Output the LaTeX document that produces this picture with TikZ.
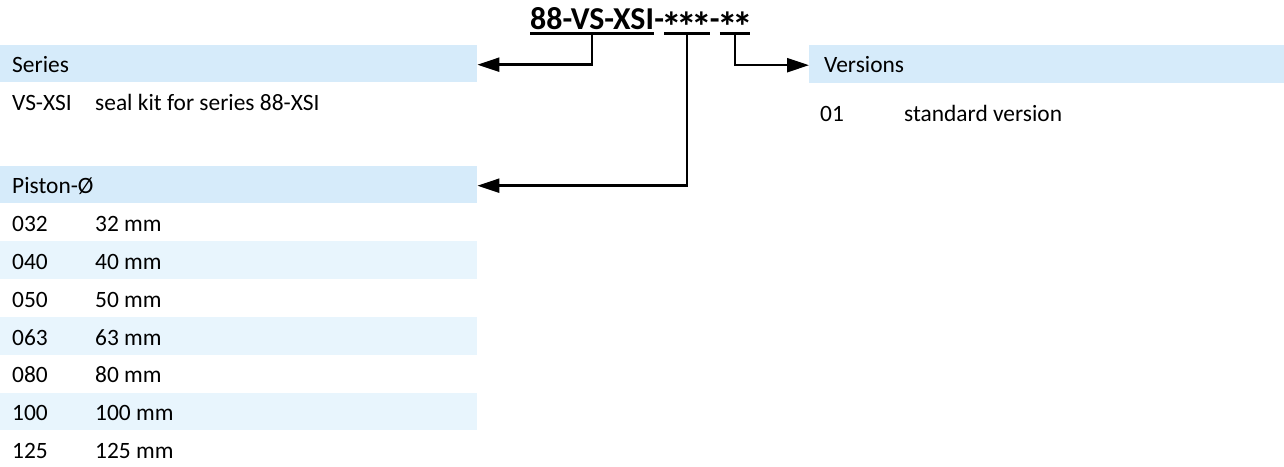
\documentclass[tikz,border=0pt]{standalone}
\usepackage{fontspec}
\usepackage{graphicx}
\setmainfont{Carlito}
\usetikzlibrary{arrows.meta,calc}
\definecolor{headblue}{RGB}{214,235,250}
\definecolor{rowblue}{RGB}{232,245,253}
\tikzset{
  band/.style={fill=headblue, draw=none, anchor=north west, inner sep=0pt, minimum height=37bp},
  altband/.style={fill=rowblue, draw=none, anchor=north west, inner sep=0pt, minimum height=37.8bp, minimum width=477bp},
  txt/.style={anchor=base west, inner sep=0pt, font=\fontsize{23.5}{28}\selectfont},
  ttl/.style={anchor=base west, inner sep=0pt, font=\fontsize{32}{38}\selectfont\bfseries},
  uline/.style={line width=2.4bp},
  conn/.style={line width=2.4bp, -{Triangle[length=22bp,width=14bp]}},
}
\newcommand{\mystar}{\makebox[15bp]{\raisebox{-12bp}{\scalebox{1.3}{*}}}}
\begin{document}
\begin{tikzpicture}[x=1bp,y=-1bp]
\useasboundingbox (0,0) rectangle (1284,467);
% bands
\node[band, minimum width=477bp] (sband) at (0,45) {};
\node[band, minimum width=477bp] (pband) at (0,166) {};
\node[altband] (r2) at (0,241) {};
\node[altband] (r4) at (0,317) {};
\node[altband] (r6) at (0,392.5) {};
\node[band, minimum width=475bp, minimum height=38bp] (vband) at (809,45) {};
% title
\node[ttl] (t1) at (530,30) {88-VS-XSI};
\node[ttl] (h1) at (t1.base east) {-};
\node[ttl] (t2) at (h1.base east) {\mystar\mystar\mystar};
\node[ttl] (h2) at (t2.base east) {-};
\node[ttl] (t3) at (h2.base east) {\mystar\mystar};
\coordinate (u1a) at ([yshift=-3.5bp]t1.base west);
\coordinate (u1b) at ([yshift=-3.5bp]t1.base east);
\coordinate (u2a) at ([yshift=-3.5bp]t2.base west);
\coordinate (u2b) at ([yshift=-3.5bp]t2.base east);
\coordinate (u3a) at ([yshift=-3.5bp]t3.base west);
\coordinate (u3b) at ([yshift=-3.5bp]t3.base east);
\draw[uline] (u1a) -- (u1b);
\draw[uline] (u2a) -- (u2b);
\draw[uline] (u3a) -- (u3b);
\coordinate (m1) at ($(u1a)!0.5!(u1b)$);
\coordinate (m2) at ($(u2a)!0.5!(u2b)$);
\coordinate (m3) at ($(u3a)!0.5!(u3b)$);
% texts
\node[txt] (stitle) at (12,73) {Series};
\node[txt] (s1a) at (12,110.5) {VS-XSI};
\node[txt] (s1b) at (95,110.5) {seal kit for series 88-XSI};
\node[txt] (ptitle) at (12,194) {Piston-Ø};
\node[txt] (p1a) at (12,231.7) {032};
\node[txt] (p1b) at (95,231.7) {32 mm};
\node[txt] (p2a) at (12,269.5) {040};
\node[txt] (p2b) at (95,269.5) {40 mm};
\node[txt] (p3a) at (12,307.3) {050};
\node[txt] (p3b) at (95,307.3) {50 mm};
\node[txt] (p4a) at (12,345.1) {063};
\node[txt] (p4b) at (95,345.1) {63 mm};
\node[txt] (p5a) at (12,382.9) {080};
\node[txt] (p5b) at (95,382.9) {80 mm};
\node[txt] (p6a) at (12,420.7) {100};
\node[txt] (p6b) at (95,420.7) {100 mm};
\node[txt] (p7a) at (12,458.5) {125};
\node[txt] (p7b) at (95,458.5) {125 mm};
\node[txt] (vtitle) at (824,73) {Versions};
\node[txt] (v1a) at (820,121.5) {01};
\node[txt] (v1b) at (904,121.5) {standard version};
% connectors
\draw[conn] (m1) |- ([yshift=-1bp]sband.east);
\draw[conn] (m2) |- ([yshift=-1bp]pband.east);
\draw[conn] (m3) |- ([yshift=-1bp]vband.west);
\end{tikzpicture}
\end{document}
